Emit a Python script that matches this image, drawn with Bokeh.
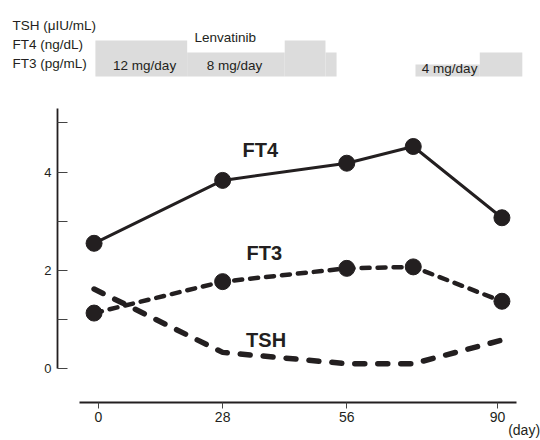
from bokeh.plotting import figure
from bokeh.models import Range1d, LinearAxis, FixedTicker
from bokeh.layouts import column
from bokeh.core.properties import value
from bokeh.embed import file_html
from bokeh.resources import INLINE

# ---- data ----
days = [-1, 28, 56, 71, 91]
ft4 = [2.55, 3.83, 4.18, 4.52, 3.07]
ft3 = [1.13, 1.77, 2.04, 2.07, 1.37]
tsh = [1.62, 0.33, 0.10, 0.10, 0.58]

x_ticks = [0, 28, 56, 90]
y_ticks = [0, 2, 4]
y_minor = [1, 3, 5]

dose_start = [-0.7, 20.0, 42.0, 51.2, 71.5, 86.0]
dose_end = [20.0, 42.0, 51.2, 53.7, 86.0, 95.6]
dose_mg = [12, 8, 12, 8, 4, 8]

dose_text = ["12 mg/day", "8 mg/day", "4 mg/day", "Lenvatinib"]
dose_text_x = [10.4, 30.7, 79.2, 28.6]
dose_text_y = [3.67, 3.67, 2.67, 13.0]

unit_labels = ["TSH (\u03bcIU/mL)", "FT4 (ng/dL)", "FT3 (pg/mL)"]
unit_x = [-19.4, -19.4, -19.4]
unit_y = [17.0, 10.6, 4.2]

series_names = ["FT4", "FT3", "TSH"]
series_lx = [36.5, 37.4, 37.8]
series_ly = [4.44, 2.35, 0.59]

day_unit_tick = 96
day_unit_label = "(day)"

INK = "#231f20"
GRAY = "#dcdcdc"
TICK = "#444444"
FONT = "Liberation Sans"

# ---- top panel: dosing timeline ----
top = figure(width=540, height=95,
             x_range=Range1d(-22.106, 99.70), y_range=Range1d(-6.333, 25.333),
             output_backend="svg", toolbar_location=None,
             x_axis_type=None, y_axis_type=None,
             min_border_left=0, min_border_right=0,
             min_border_top=0, min_border_bottom=0)
top.frame_align = False
top.outline_line_color = None
top.quad(left=dose_start, right=dose_end, bottom=0, top=dose_mg,
         fill_color=GRAY, line_color=None)
top.text(x=dose_text_x, y=dose_text_y, text=dose_text,
         text_font=value(FONT), text_font_size="13.5px", text_color=INK,
         text_align="center", text_baseline="middle")
top.text(x=unit_x, y=unit_y, text=unit_labels,
         text_font=value(FONT), text_font_size="13.5px", text_color=INK,
         text_align="left", text_baseline="middle")

# ---- main panel ----
p = figure(width=540, height=345,
           x_range=Range1d(-9.249, 99.70), y_range=Range1d(-0.690, 5.558),
           output_backend="svg", toolbar_location=None,
           x_axis_type=None, y_axis_type=None,
           min_border_left=57, min_border_right=0,
           min_border_top=0, min_border_bottom=37)
p.frame_align = False
p.outline_line_color = None

yaxis = LinearAxis(ticker=FixedTicker(ticks=y_ticks, minor_ticks=y_minor), bounds=(0, 5.3))
yaxis.axis_line_width = 1.8
yaxis.axis_line_color = INK
yaxis.major_tick_in = 10
yaxis.major_tick_out = 0
yaxis.minor_tick_in = 10
yaxis.minor_tick_out = 0
yaxis.major_tick_line_color = TICK
yaxis.minor_tick_line_color = TICK
yaxis.major_label_standoff = 6
yaxis.major_label_text_font = FONT
yaxis.major_label_text_font_size = "13px"
yaxis.major_label_text_color = INK
p.add_layout(yaxis, "left")

xaxis = LinearAxis(ticker=FixedTicker(ticks=x_ticks, minor_ticks=[]), bounds=(-4.3, 94.3))
xaxis.axis_line_width = 1.8
xaxis.axis_line_color = INK
xaxis.major_tick_in = 0
xaxis.major_tick_out = 6
xaxis.minor_tick_in = 0
xaxis.minor_tick_out = 0
xaxis.major_tick_line_color = TICK
xaxis.major_label_standoff = 3
xaxis.major_label_text_font = FONT
xaxis.major_label_text_font_size = "14px"
xaxis.major_label_text_color = INK
p.add_layout(xaxis, "below")

# unit label "(day)" as a second, line-less axis below
dayaxis = LinearAxis(ticker=FixedTicker(ticks=[day_unit_tick], minor_ticks=[]),
                     major_label_overrides={day_unit_tick: day_unit_label})
dayaxis.axis_line_color = None
dayaxis.major_tick_line_color = None
dayaxis.minor_tick_line_color = None
dayaxis.major_tick_in = 0
dayaxis.major_tick_out = 0
dayaxis.major_label_standoff = -3
dayaxis.major_label_text_font = FONT
dayaxis.major_label_text_font_size = "14px"
dayaxis.major_label_text_color = INK
p.add_layout(dayaxis, "below")

p.line(days, tsh, line_color=INK, line_width=5.5, line_dash="10 13", line_cap="round")
p.line(days, ft3, line_color=INK, line_width=4.5, line_dash="8 8", line_cap="round")
p.scatter(days, ft3, size=16, marker="circle", fill_color=INK, line_color=INK)
p.line(days, ft4, line_color=INK, line_width=3)
p.scatter(days, ft4, size=16, marker="circle", fill_color=INK, line_color=INK)

p.text(x=series_lx, y=series_ly, text=series_names,
       text_font=value(FONT), text_font_size="20px", text_font_style="bold",
       text_color=INK, text_align="center", text_baseline="middle")

layout = column(top, p, spacing=0)
open("out.html", "w").write(file_html(layout, INLINE))
